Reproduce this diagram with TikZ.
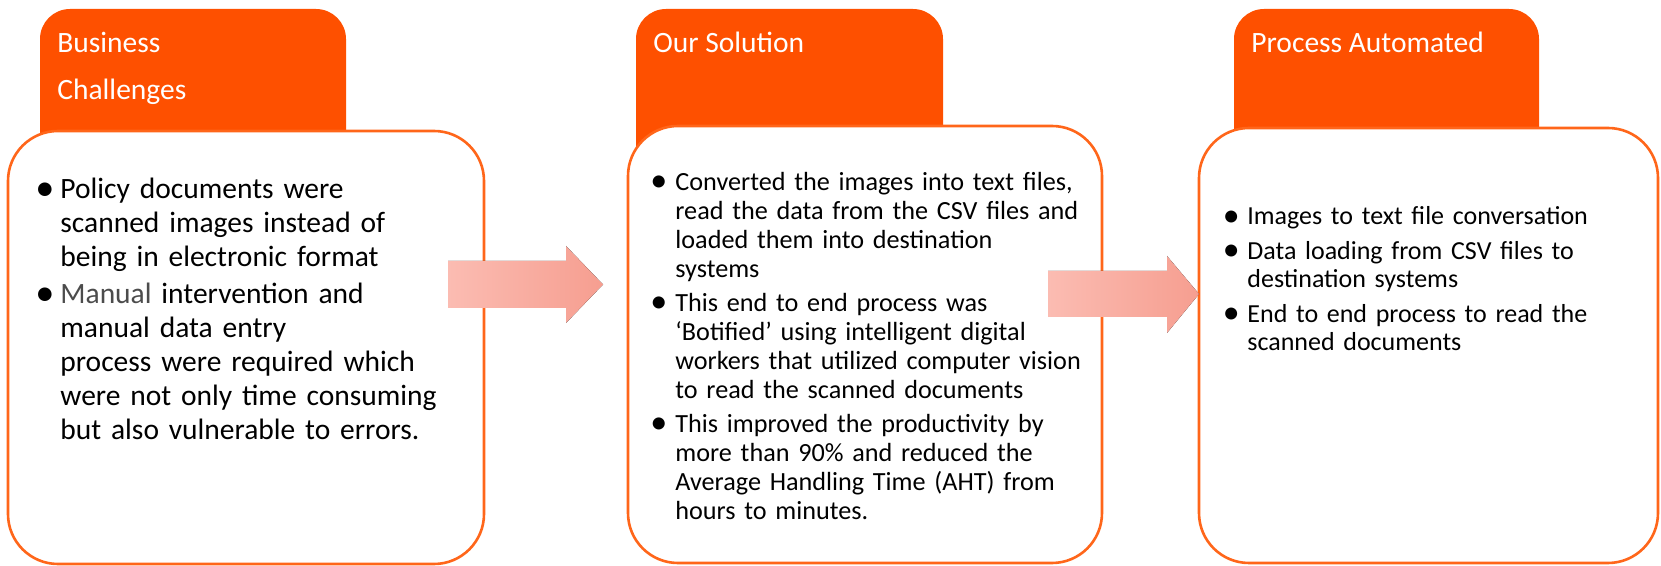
\documentclass[tikz,border=0pt]{standalone}
\usepackage{fontspec}
\setmainfont{Carlito}
\usetikzlibrary{positioning}
\definecolor{taborange}{RGB}{254,80,0}
\definecolor{lineorange}{RGB}{255,102,26}
\definecolor{arrowleft}{RGB}{251,188,178}
\definecolor{arrowright}{RGB}{246,158,144}
\newlength{\bulw}
\newcommand{\bitem}[1]{\par\hangindent=\bulw\hangafter=1\noindent\strut\makebox[\bulw][l]{\hspace*{-2.5pt}\raisebox{-0.12ex}{\scalebox{1.3}{\textbullet}}}#1\par}
\tikzset{
  tab/.style={fill=taborange,rounded corners=15pt},
  panel/.style={draw=lineorange,line width=1.3pt,fill=white,rounded corners=25pt},
  blockarrow/.style={left color=arrowleft,right color=arrowright},
  tabtext/.style={anchor=north west,inner sep=0pt,text=white,align=left,font=\fontsize{14.75}{23.5}\selectfont},
  bodytext/.style={anchor=north west,inner sep=0pt,align=left}
}
\begin{document}
\begin{tikzpicture}[x=0.5pt,y=-0.5pt]
\useasboundingbox (0,0) rectangle (1661,566);
% tabs behind the panels
\fill[tab] (40,9) rectangle (346,200);
\fill[tab] (636,9) rectangle (943,200);
\fill[tab] (1234,9) rectangle (1539,200);
% panels
\draw[panel] (8,131) rectangle (484,564);
\draw[panel] (628,126) rectangle (1102,563);
\draw[panel] (1199,128) rectangle (1658,563);
% block arrows
\fill[blockarrow] (448,261)--(566,261)--(566,246)--(603,284.5)--(566,323)--(566,308)--(448,308)--cycle;
\fill[blockarrow] (1048,271)--(1167,271)--(1167,256)--(1199,294)--(1167,333)--(1167,317)--(1048,317)--cycle;
% titles
\node[tabtext] (chalhead) at (57,19) {\strut Business\\Challenges};
\node[tabtext] (solhead) at (653,19) {\strut Our Solution};
\node[tabtext] (autohead) at (1251,19) {\strut Process Automated};
% texts
\node[bodytext,text width=220pt,font=\fontsize{14.75}{17}\selectfont\setlength{\bulw}{10pt}\setlength{\parskip}{1.5pt}] (chaltxt) at (40,161.2) {%
\bitem{Policy documents were\newline scanned images instead of\newline being in electronic format}%
\bitem{{\color{black!70}Manual} intervention and\newline manual data entry\newline process were required which\newline were not only time consuming\newline but also vulnerable to errors.}};
\node[bodytext,text width=225pt,font=\fontsize{13.1}{14.5}\selectfont\setlength{\bulw}{10pt}\setlength{\parskip}{2.5pt}] (soltxt) at (655,155.7) {%
\bitem{Converted the images into text files,\newline read the data from the CSV files and\newline loaded them into destination\newline systems}%
\bitem{This end to end process was\newline ‘Botified’ using intelligent digital\newline workers that utilized computer vision\newline to read the scanned documents}%
\bitem{This improved the productivity by\newline more than 90\% and reduced the\newline Average Handling Time (AHT) from\newline hours to minutes.}};
\node[bodytext,text width=210pt,font=\fontsize{13}{14.25}\selectfont\setlength{\bulw}{9.75pt}\setlength{\parskip}{3pt}] (autotxt) at (1227.5,190) {%
\bitem{Images to text file conversation}%
\bitem{Data loading from CSV files to\newline destination systems}%
\bitem{End to end process to read the\newline scanned documents}};
\end{tikzpicture}
\end{document}
